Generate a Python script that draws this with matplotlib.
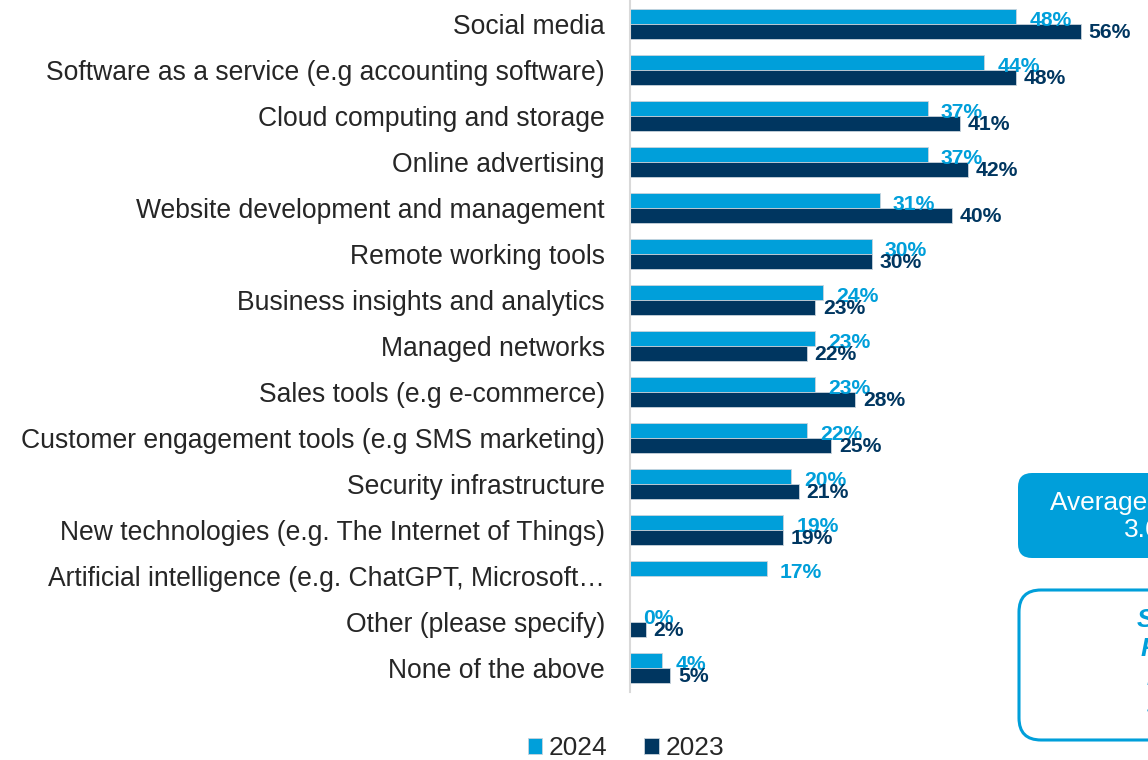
import numpy as np
import matplotlib
matplotlib.use('Agg')
import matplotlib.pyplot as plt
from matplotlib.patches import FancyBboxPatch
from matplotlib.transforms import IdentityTransform

plt.rcParams['font.family'] = ['Liberation Sans', 'DejaVu Sans']

# data
categories = [
    'Social media',
    'Software as a service (e.g accounting software)',
    'Cloud computing and storage',
    'Online advertising',
    'Website development and management',
    'Remote working tools',
    'Business insights and analytics',
    'Managed networks',
    'Sales tools (e.g e-commerce)',
    'Customer engagement tools (e.g SMS marketing)',
    'Security infrastructure',
    'New technologies (e.g. The Internet of Things)',
    'Artificial intelligence (e.g. ChatGPT, Microsoft\u2026',
    'Other (please specify)',
    'None of the above',
]
values_2024 = [48, 44, 37, 37, 31, 30, 24, 23, 23, 22, 20, 19, 17, 0, 4]
values_2023 = [56, 48, 41, 42, 40, 30, 23, 22, 28, 25, 21, 19, np.nan, 2, 5]
series_labels = ['2024', '2023']

LIGHT = '#009FDA'
DARK = '#003660'
TEXT = '#262626'

W, H = 1148, 760
fig = plt.figure(figsize=(W / 100, H / 100), dpi=100)
# axes spans x 630..1148 px, y 0..692 px (from top)
ax = fig.add_axes([630 / W, (H - 692) / H, (W - 630) / W, 692 / H])

y = np.arange(len(categories))
bh = 0.326
b1 = ax.barh(y - bh / 2, values_2024, height=bh, color=LIGHT,
             edgecolor='#c8d3dc', linewidth=0.6, label=series_labels[0])
b2 = ax.barh(y + bh / 2, values_2023, height=bh, color=DARK,
             edgecolor='#c8d3dc', linewidth=0.6, label=series_labels[1])

ax.set_xlim(0, (W - 630) / 8.05)
ax.set_ylim(len(categories) - 1 + 0.52, -0.52)

ax.set_yticks(y)
ax.set_yticklabels(categories, fontsize=19.1, color=TEXT)
ax.tick_params(axis='y', length=0, pad=18)
ax.set_xticks([])
for s in ['top', 'right', 'bottom']:
    ax.spines[s].set_visible(False)
ax.spines['left'].set_color('#d9d9d9')
ax.spines['left'].set_linewidth(1.5)

for i, (a, b) in enumerate(zip(values_2024, values_2023)):
    ax.annotate(f'{a}%', (a, i - bh / 2), xytext=(9.5, -2.6),
                textcoords='offset points', ha='left', va='center',
                fontsize=15.2, fontweight='bold', color=LIGHT)
    if not np.isnan(b):
        ax.annotate(f'{b:.0f}%', (b, i + bh / 2), xytext=(5.5, -0.6),
                    textcoords='offset points', ha='left', va='center',
                    fontsize=15.2, fontweight='bold', color=DARK)

fig.legend(handles=[b1, b2], loc='center', bbox_to_anchor=(626 / W, 1 - 748 / H),
           ncol=2, frameon=False, fontsize=18.9, handlelength=0.55,
           handleheight=0.55, handletextpad=0.25, columnspacing=1.4,
           labelcolor=TEXT)

# side boxes (cut off at the right edge in the reference)
px = IdentityTransform()
box1 = FancyBboxPatch((1018, H - 558), 260, 85,
                      boxstyle='round,pad=0,rounding_size=14',
                      facecolor=LIGHT, edgecolor='none', transform=px)
fig.add_artist(box1)
fig.text(1050 / W, 1 - 503 / H, 'Average services used', color='white',
         fontsize=18.9, ha='left', va='center')
fig.text(1124 / W, 1 - 530 / H, '3.6', color='white',
         fontsize=18.9, ha='left', va='center')

box2 = FancyBboxPatch((1019, H - 740), 260, 150,
                      boxstyle='round,pad=0,rounding_size=22',
                      facecolor='white', edgecolor=LIGHT, linewidth=2.2,
                      transform=px)
fig.add_artist(box2)
for txt, xx, yy in [('Small', 1137, 620), ('Firms', 1141, 649),
                    ('1.4', 1147, 678), ('3.2', 1147, 707)]:
    fig.text(xx / W, 1 - yy / H, txt, color=LIGHT, fontsize=18.9,
             fontweight='bold', fontstyle='italic', ha='left', va='center')

fig.savefig('out.png', dpi=100)
plt.close(fig)
